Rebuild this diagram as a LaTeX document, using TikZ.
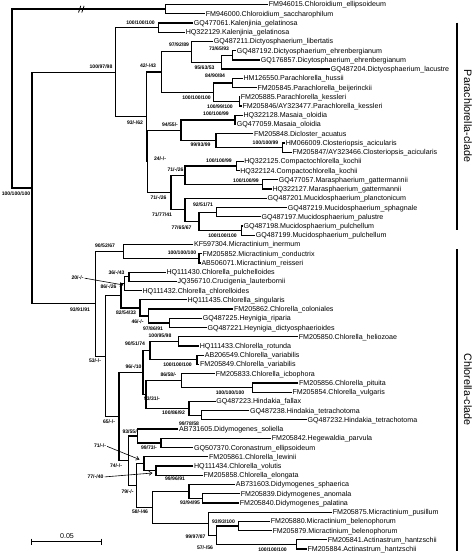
\documentclass[tikz,border=0pt]{standalone}
\usepackage{fontspec}
\setmainfont{Liberation Sans}
\usetikzlibrary{arrows.meta}
\newcommand\lfont{\fontsize{7.1}{8}\selectfont}
\newcommand\supfont{\fontsize{5.1}{6}\selectfont\bfseries}
\newcommand\cladefont{\fontsize{10.75}{12}\selectfont}
\newcommand\tbr[3]{\draw[tree] (#2) -| (#1) |- (#3);}
\tikzset{
  tree/.style={line width=1.25pt},
  leaf/.style={anchor=west, font=\lfont, inner xsep=0.6pt, inner ysep=0pt, text height=5pt, text depth=0pt},
  bs/.style={font=\supfont, inner sep=0pt, text height=3.7pt, text depth=0pt, anchor=center},
  arr/.style={-{Straight Barb[length=3pt,width=4pt]}, line width=0.6pt, shorten <=1pt},
  cladebar/.style={line width=1.1pt},
  clade/.style={font=\cladefont, inner sep=0pt, rotate=-90}
}
\begin{document}
\begin{tikzpicture}[x=1pt,y=-1pt]
\useasboundingbox (0,0) rectangle (474,553);
% ---------- leaves ----------
\node[leaf] (l1) at (268,4.50) {FM946015.Chloroidium\_ellipsoideum};
\node[leaf] (l2) at (205,13.73) {FM946000.Chloroidium\_saccharophilum};
\node[leaf] (l3) at (193,22.96) {GQ477061.Kalenjinia\_gelatinosa};
\node[leaf] (l4) at (185,32.19) {HQ322129.Kalenjinia\_gelatinosa};
\node[leaf] (l5) at (213,41.42) {GQ487211.Dictyosphaerium\_libertatis};
\node[leaf] (l6) at (236,50.65) {GQ487192.Dictyosphaerium\_ehrenbergianum};
\node[leaf] (l7) at (260,59.88) {GQ176857.Dicytosphaerium\_ehrenbergianum};
\node[leaf] (l8) at (330,69.11) {GQ487204.Dictyosphaerium\_lacustre};
\node[leaf] (l9) at (242.7,78.34) {HM126550.Parachlorella\_hussii};
\node[leaf] (l10) at (256.7,87.57) {FM205845.Parachlorella\_beijerinckii};
\node[leaf] (l11) at (240,96.80) {FM205885.Parachlorella\_kessleri};
\node[leaf] (l12) at (241.7,106.03) {FM205846/AY323477.Parachlorella\_kessleri};
\node[leaf] (l13) at (242.7,115.26) {HQ322128.Masaia\_oloidia};
\node[leaf] (l14) at (236,124.49) {GQ477059.Masaia\_oloidia};
\node[leaf] (l15) at (253.3,133.72) {FM205848.Dicloster\_acuatus};
\node[leaf] (l16) at (285,142.95) {HM066009.Closteriopsis\_acicularis};
\node[leaf] (l17) at (291.7,152.18) {FM205847/AY323466.Closteriopsis\_acicularis};
\node[leaf] (l18) at (243.5,161.41) {HQ322125.Compactochlorella\_kochii};
\node[leaf] (l19) at (239.5,170.64) {HQ322124.Compactochlorella\_kochii};
\node[leaf] (l20) at (278,179.87) {GQ477057.Marasphaerium\_gattermannii};
\node[leaf] (l21) at (271.7,189.10) {HQ322127.Marasphaerium\_gattermannii};
\node[leaf] (l22) at (266.7,198.33) {GQ487201.Mucidosphaerium\_planctonicum};
\node[leaf] (l23) at (287,207.56) {GQ487219.Mucidosphaerium\_sphagnale};
\node[leaf] (l24) at (260.7,216.79) {GQ487197.Mucidosphaerium\_palustre};
\node[leaf] (l25) at (242.7,226.02) {GQ487198.Mucidosphaerium\_pulchellum};
\node[leaf] (l26) at (255,235.25) {GQ487199.Mucidosphaerium\_pulchellum};
\node[leaf] (l27) at (193.3,244.48) {KF597304.Micractinium\_inermum};
\node[leaf] (l28) at (201.7,253.71) {FM205852.Micractinium\_conductrix};
\node[leaf] (l29) at (200.7,262.94) {AB506071.Micractinium\_reisseri};
\node[leaf] (l30) at (165.7,272.17) {HQ111430.Chlorella\_pulchelloides};
\node[leaf] (l31) at (176.7,281.40) {JQ356710.Crucigenia\_lauterbornii};
\node[leaf] (l32) at (141.7,290.63) {HQ111432.Chlorella\_chlorelloides};
\node[leaf] (l33) at (186.7,299.86) {HQ111435.Chlorella\_singularis};
\node[leaf] (l34) at (233.3,309.09) {FM205862.Chlorella\_coloniales};
\node[leaf] (l35) at (202,318.32) {GQ487225.Heynigia\_riparia};
\node[leaf] (l36) at (206.7,327.55) {GQ487221.Heynigia\_dictyosphaerioides};
\node[leaf] (l37) at (298,336.78) {FM205850.Chlorella\_heliozoae};
\node[leaf] (l38) at (199,346.01) {HQ111433.Chlorella\_rotunda};
\node[leaf] (l39) at (204,355.24) {AB206549.Chlorella\_variabilis};
\node[leaf] (l40) at (199.3,364.47) {FM205849.Chlorella\_variabilis};
\node[leaf] (l41) at (215,373.70) {FM205833.Chlorella\_icbophora};
\node[leaf] (l42) at (298.3,382.93) {FM205856.Chlorella\_pituita};
\node[leaf] (l43) at (291.7,392.16) {FM205854.Chlorella\_vulgaris};
\node[leaf] (l44) at (215.5,401.39) {GQ487223.Hindakia\_fallax};
\node[leaf] (l45) at (249.3,410.62) {GQ487238.Hindakia\_tetrachotoma};
\node[leaf] (l46) at (306.7,419.85) {GQ487232.Hindakia\_tetrachotoma};
\node[leaf] (l47) at (178.3,429.08) {AB731605.Didymogenes\_soliella};
\node[leaf] (l48) at (271,438.31) {FM205842.Hegewaldia\_parvula};
\node[leaf] (l49) at (193.3,447.54) {GQ507370.Coronastrum\_ellipsoideum};
\node[leaf] (l50) at (208.3,456.77) {FM205861.Chlorella\_lewinii};
\node[leaf] (l51) at (193.3,466.00) {HQ111434.Chlorella\_volutis};
\node[leaf] (l52) at (202.7,475.23) {FM205858.Chlorella\_elongata};
\node[leaf] (l53) at (235,484.46) {AB731603.Didymogenes\_sphaerica};
\node[leaf] (l54) at (240,493.69) {FM205839.Didymogenes\_anomala};
\node[leaf] (l55) at (239,502.92) {FM205840.Didymogenes\_palatina};
\node[leaf] (l56) at (332,512.15) {FM205875.Micractinium\_pusillum};
\node[leaf] (l57) at (270,521.38) {FM205880.Micractinium\_belenophorum};
\node[leaf] (l58) at (271.7,530.61) {FM205879.Micractinium\_belenophorum};
\node[leaf] (l59) at (327,539.84) {FM205841.Actinastrum\_hantzschii};
\node[leaf] (l60) at (306.7,549.07) {FM205884.Actinastrum\_hantzschii};
% ---------- internal nodes ----------
\coordinate (R) at (12,98.56);
\coordinate (A1) at (165.7,9.12);
\coordinate (B) at (32,187.99);
\coordinate (Para) at (115.7,72.15);
\coordinate (Kal) at (158.3,27.58);
\coordinate (P2) at (146.7,116.71);
\coordinate (N42) at (161.7,72.0);
\coordinate (N97) at (191.7,51.8);
\coordinate (N95) at (221.7,62.19);
\coordinate (N73) at (232.3,55.27);
\coordinate (Npara) at (213.3,92.19);
\coordinate (N84) at (232.7,82.96);
\coordinate (Nkes) at (239.3,101.42);
\coordinate (X) at (147.7,161.42);
\coordinate (N94) at (181,130.26);
\coordinate (Nmas) at (235,119.88);
\coordinate (N99) at (216,140.64);
\coordinate (Ncl) at (282.7,147.57);
\coordinate (N71b) at (171,192.57);
\coordinate (Na) at (185,175.26);
\coordinate (Ncomp) at (236.7,166.03);
\coordinate (Nmar) at (262.7,184.49);
\coordinate (N7177) at (185,209.87);
\coordinate (N77) at (199,221.41);
\coordinate (N92) at (216.7,212.18);
\coordinate (Npul) at (241.7,230.64);
\coordinate (Chlo) at (95.7,303.83);
\coordinate (N90m) at (123.3,251.4);
\coordinate (Ncr) at (199,258.33);
\coordinate (Y) at (105.7,356.26);
\coordinate (N86) at (121,295.83);
\coordinate (N20) at (124.5,283.71);
\coordinate (N36) at (129,276.79);
\coordinate (N82) at (140,307.94);
\coordinate (N46) at (148.3,316.02);
\coordinate (N97b) at (169.3,322.94);
\coordinate (N65) at (119,416.69);
\coordinate (N96) at (143,372.56);
\coordinate (N90v) at (150,350.63);
\coordinate (N100r) at (178.3,341.4);
\coordinate (Nvar) at (197,359.86);
\coordinate (N93) at (146,394.48);
\coordinate (N86b) at (181.7,380.63);
\coordinate (Npv) at (252.7,387.55);
\coordinate (N100b) at (189,408.32);
\coordinate (Nht) at (201.7,415.24);
\coordinate (N74) at (128.3,460.81);
\coordinate (N93b) at (137.3,436.0);
\coordinate (N99b) at (161,442.93);
\coordinate (N79) at (136.7,485.62);
\coordinate (N71c) at (144,463.7);
\coordinate (N77b) at (156,470.62);
\coordinate (N58) at (152.3,507.54);
\coordinate (N99c) at (189,491.39);
\coordinate (N93c) at (202.7,498.31);
\coordinate (N99d) at (208.3,523.69);
\coordinate (N57) at (216.7,535.23);
\coordinate (N93d) at (238.3,526.0);
\coordinate (Nact) at (296.7,544.46);
% ---------- branches ----------
\tbr{R}{A1}{B}
\tbr{A1}{l1.west}{l2.west}
\tbr{B}{Para}{Chlo}
\tbr{Para}{Kal}{P2}
\tbr{Kal}{l3.west}{l4.west}
\tbr{P2}{N42}{X}
\tbr{N42}{N97}{Npara}
\tbr{N97}{l5.west}{N95}
\tbr{N95}{N73}{l8.west}
\tbr{N73}{l6.west}{l7.west}
\tbr{Npara}{N84}{Nkes}
\tbr{N84}{l9.west}{l10.west}
\tbr{Nkes}{l11.west}{l12.west}
\tbr{X}{N94}{N71b}
\tbr{N94}{Nmas}{N99}
\tbr{Nmas}{l13.west}{l14.west}
\tbr{N99}{l15.west}{Ncl}
\tbr{Ncl}{l16.west}{l17.west}
\tbr{N71b}{Na}{N7177}
\tbr{Na}{Ncomp}{Nmar}
\tbr{Ncomp}{l18.west}{l19.west}
\tbr{Nmar}{l20.west}{l21.west}
\tbr{N7177}{l22.west}{N77}
\tbr{N77}{N92}{Npul}
\tbr{N92}{l23.west}{l24.west}
\tbr{Npul}{l25.west}{l26.west}
\tbr{Chlo}{N90m}{Y}
\tbr{N90m}{l27.west}{Ncr}
\tbr{Ncr}{l28.west}{l29.west}
\tbr{Y}{N86}{N65}
\tbr{N86}{N20}{N82}
\tbr{N20}{N36}{l32.west}
\tbr{N36}{l30.west}{l31.west}
\tbr{N82}{l33.west}{N46}
\tbr{N46}{l34.west}{N97b}
\tbr{N97b}{l35.west}{l36.west}
\tbr{N65}{N96}{N74}
\tbr{N96}{N90v}{N93}
\tbr{N90v}{N100r}{Nvar}
\tbr{N100r}{l37.west}{l38.west}
\tbr{Nvar}{l39.west}{l40.west}
\tbr{N93}{N86b}{N100b}
\tbr{N86b}{l41.west}{Npv}
\tbr{Npv}{l42.west}{l43.west}
\tbr{N100b}{l44.west}{Nht}
\tbr{Nht}{l45.west}{l46.west}
\tbr{N74}{N93b}{N79}
\tbr{N93b}{l47.west}{N99b}
\tbr{N99b}{l48.west}{l49.west}
\tbr{N79}{N71c}{N58}
\tbr{N71c}{l50.west}{N77b}
\tbr{N77b}{l51.west}{l52.west}
\tbr{N58}{N99c}{N99d}
\tbr{N99c}{l53.west}{N93c}
\tbr{N93c}{l54.west}{l55.west}
\tbr{N99d}{l56.west}{N57}
\tbr{N57}{N93d}{Nact}
\tbr{N93d}{l57.west}{l58.west}
\tbr{Nact}{l59.west}{l60.west}
% break mark on the long branch
\draw[line width=0.8pt] (78.5,12.5) -- (80.8,5.8) (81.8,12.5) -- (84.1,5.8);
% ---------- support values ----------
\node[bs] (s1) at (101,66.3) {100/97/98};
\node[bs] (s2) at (140.5,22.7) {100/100/100};
\node[bs] (s3) at (179,45) {97/92/89};
\node[bs] (s4) at (219,49) {73/65/93};
\node[bs] (s5) at (204.5,68) {95/63/53};
\node[bs] (s6) at (148,66) {42/-/43};
\node[bs] (s7) at (215,75.5) {84/90/84};
\node[bs] (s8) at (196.5,97.5) {100/100/100};
\node[bs] (s9) at (220,106.5) {100/99/100};
\node[bs] (s10) at (216,114) {100/100/99};
\node[bs] (s11) at (170,125) {94/55/-};
\node[bs] (s12) at (135,123) {93/-/62};
\node[bs] (s13) at (200.5,145) {99/93/99};
\node[bs] (s14) at (265.5,142.3) {100/100/99};
\node[bs] (s15) at (160,159) {24/-/-};
\node[bs] (s16) at (219,161) {100/100/99};
\node[bs] (s17) at (175.5,170) {71/-/26};
\node[bs] (s18) at (246,180.5) {100/100/99};
\node[bs] (s19) at (158.5,198) {71/-/26};
\node[bs] (s20) at (203,205) {92/51/71};
\node[bs] (s21) at (162,215) {71/77/41};
\node[bs] (s22) at (181.5,228) {77/65/67};
\node[bs] (s23) at (222.5,236) {100/100/100};
\node[bs] (s24) at (16,194) {100/100/100};
\node[bs] (s25) at (105,245.7) {90/52/67};
\node[bs] (s26) at (182,252.7) {100/100/100};
\node[bs] (s27) at (116.5,273) {36/-/43};
\node[bs] (s28) at (77.5,278) {20/-/-};
\node[bs] (s29) at (108.5,287) {86/-/26};
\node[bs] (s30) at (80,310) {93/91/91};
\node[bs] (s31) at (126,313) {82/54/33};
\node[bs] (s32) at (137.5,321.7) {46/-/-};
\node[bs] (s33) at (153,328.5) {97/86/91};
\node[bs] (s34) at (160,335.5) {100/95/98};
\node[bs] (s35) at (135,344) {90/51/74};
\node[bs] (s36) at (95,361) {53/-/-};
\node[bs] (s37) at (177.5,365) {100/100/100};
\node[bs] (s38) at (133.5,366.5) {96/-/10};
\node[bs] (s39) at (168.5,375) {86/58/-};
\node[bs] (s40) at (230,392.5) {100/100/100};
\node[bs] (s41) at (152,399) {93/31/-};
\node[bs] (s42) at (173.5,413) {100/86/92};
\node[bs] (s43) at (109,422) {65/-/-};
\node[bs] (s44) at (189,423.5) {99/78/58};
\node[bs] (s45) at (130.5,431.5) {93/55/-};
\node[bs] (s46) at (100,446) {71/-/-};
\node[bs] (s47) at (149,448) {99/73/-};
\node[bs] (s48) at (116,465.7) {74/-/-};
\node[bs] (s49) at (95.5,477) {77/-/40};
\node[bs] (s50) at (175,479) {99/96/91};
\node[bs] (s51) at (127.5,491.7) {79/-/-};
\node[bs] (s52) at (190,502.5) {93/94/95};
\node[bs] (s53) at (140,511.5) {58/-/46};
\node[bs] (s54) at (223.5,521.5) {93/93/100};
\node[bs] (s55) at (195.5,537) {99/97/87};
\node[bs] (s56) at (205,548) {57/-/56};
\node[bs] (s57) at (272.5,549.5) {100/100/100};
% ---------- arrows to short branches ----------
\coordinate (a20) at (123.5,285);
\coordinate (a71) at (139.5,459.5);
\coordinate (a77) at (152.5,473);
\draw[arr] (s28.east) -- (a20);
\draw[arr] (s46.east) -- (a71);
\draw[arr] (s49.east) -- (a77);
% ---------- clade bars ----------
\coordinate (pb1) at (457,22.7);
\coordinate (pb2) at (457,230);
\coordinate (cb1) at (457,249.3);
\coordinate (cb2) at (457,551);
\draw[cladebar] (pb1) -- (pb2);
\draw[cladebar] (cb1) -- (cb2);
\node[clade] (cp) at (468,116) {Parachlorella-clade};
\node[clade] (cc) at (468,389.5) {Chlorella-clade};
% ---------- scale bar ----------
\coordinate (sb1) at (31.7,541.7);
\coordinate (sb2) at (101.7,541.7);
\draw[line width=1.1pt] (sb1) -- (sb2);
\draw[line width=1.1pt] ([yshift=3pt]sb1) -- ([yshift=-3pt]sb1);
\draw[line width=1.1pt] ([yshift=3pt]sb2) -- ([yshift=-3pt]sb2);
\node[font=\lfont, inner sep=0pt] (sbl) at (67,536.3) {0.05};
\end{tikzpicture}
\end{document}
